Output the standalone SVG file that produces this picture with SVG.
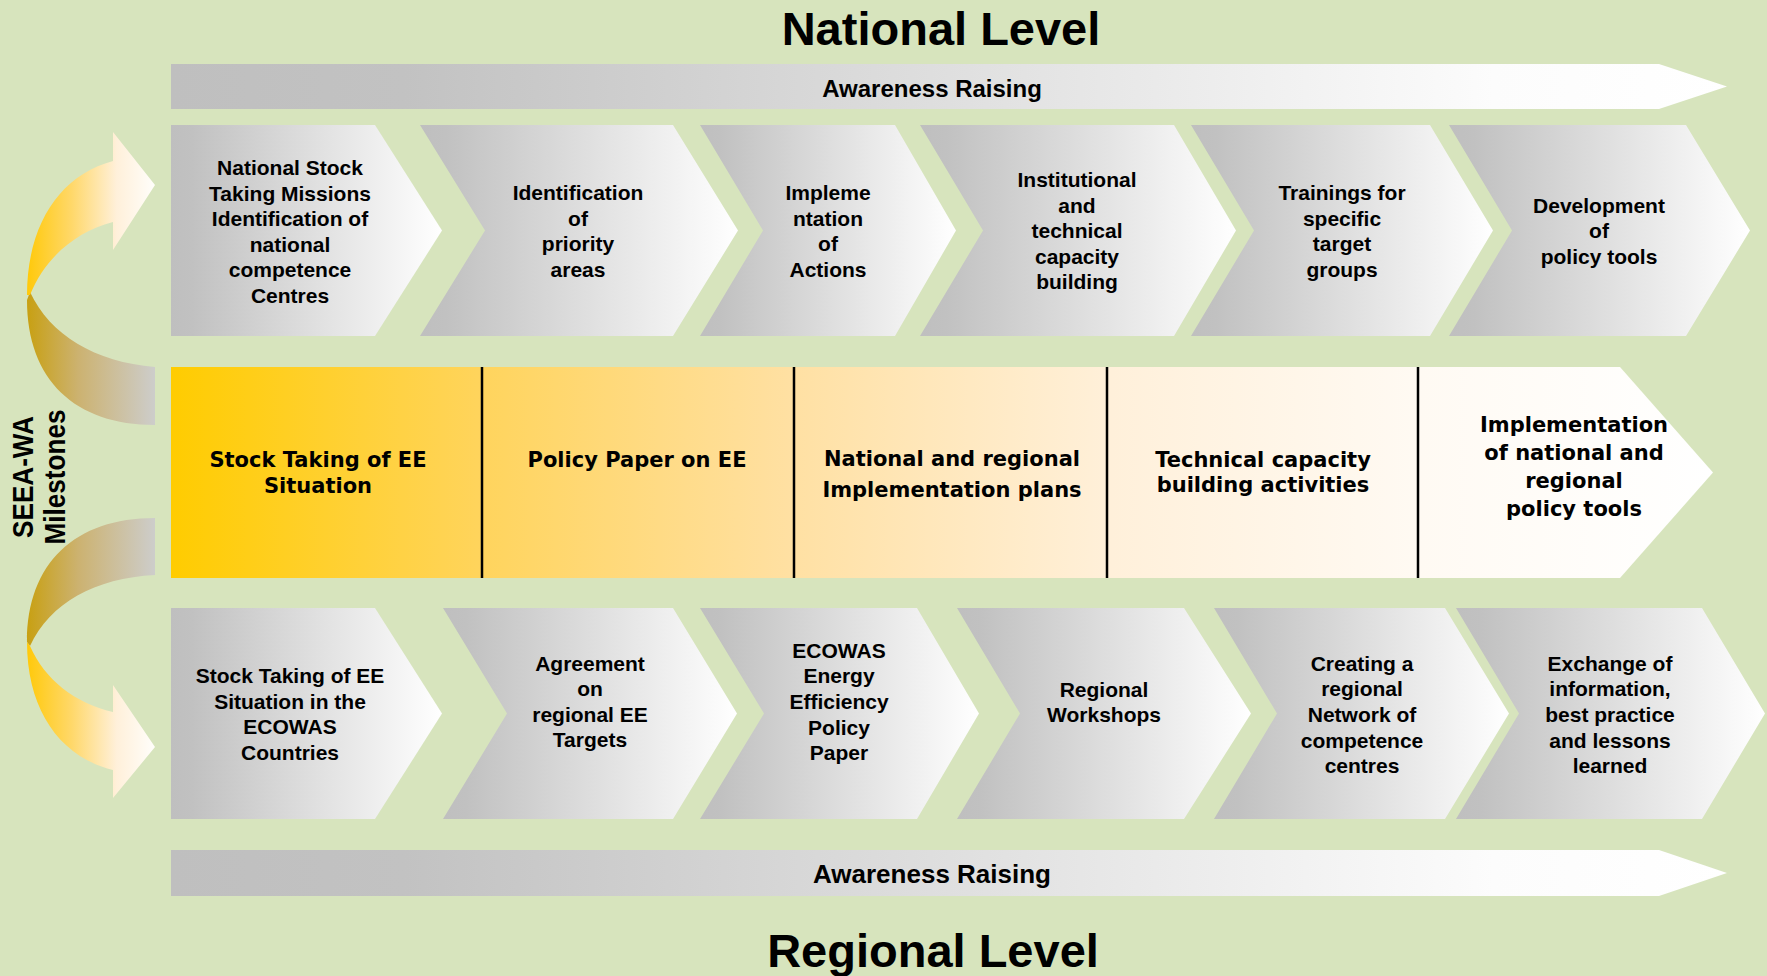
<svg xmlns="http://www.w3.org/2000/svg" width="1767" height="976" viewBox="0 0 1767 976">
<defs>
<linearGradient id="grey" x1="0" y1="0" x2="1" y2="0">
<stop offset="0" stop-color="#BFBFBF"/><stop offset="0.08" stop-color="#C1C1C1"/><stop offset="1" stop-color="#FFFFFF"/>
</linearGradient>
<linearGradient id="barGrey" x1="0" y1="0" x2="1" y2="0">
<stop offset="0" stop-color="#BFBFBF"/><stop offset="0.15" stop-color="#C2C2C2"/><stop offset="0.85" stop-color="#FCFCFC"/><stop offset="1" stop-color="#FFFFFF"/>
</linearGradient>
<linearGradient id="gold" gradientUnits="userSpaceOnUse" x1="171" y1="0" x2="1713" y2="0">
<stop offset="0" stop-color="#FFCC00"/><stop offset="0.2" stop-color="#FFD45C"/><stop offset="0.4" stop-color="#FFE0A2"/><stop offset="0.61" stop-color="#FFF0DA"/><stop offset="0.81" stop-color="#FFFAF3"/><stop offset="1" stop-color="#FFFFFF"/>
</linearGradient>
<linearGradient id="front" gradientUnits="userSpaceOnUse" x1="27" y1="0" x2="155" y2="0">
<stop offset="0" stop-color="#FFC90A"/><stop offset="0.35" stop-color="#FFD86A"/><stop offset="0.7" stop-color="#FFF0DA"/><stop offset="1" stop-color="#FFFEFB"/>
</linearGradient>
<linearGradient id="back" gradientUnits="userSpaceOnUse" x1="27" y1="0" x2="155" y2="0">
<stop offset="0" stop-color="#C8A012"/><stop offset="0.4" stop-color="#CCB270"/><stop offset="1" stop-color="#CDCDCB"/>
</linearGradient>
<style>
.bg{fill:#D7E4BD}
.chev{fill:url(#grey)}
.bar{fill:url(#barGrey)}
.t{font-family:"Liberation Sans",Arial,sans-serif;font-weight:bold;font-size:21px;fill:#000;text-anchor:middle}
.m{font-family:"DejaVu Sans",Verdana,sans-serif;font-weight:bold;font-size:21px;fill:#000;text-anchor:middle}
.title{font-family:"Liberation Sans",Arial,sans-serif;font-weight:bold;font-size:47px;fill:#000;text-anchor:middle}
.div{stroke:#000;stroke-width:2.5}
</style>
</defs>
<rect class="bg" x="0" y="0" width="1767" height="976"/>

<g id="title-national"><text class="title" x="941" y="45">National Level</text></g>
<g id="title-regional"><text class="title" x="933" y="967">Regional Level</text></g>

<g id="awareness-top">
<path class="bar" d="M171,64 L1659,64 L1727,86.5 L1659,109 L171,109 Z"/>
<text class="t" x="932" y="96.5" style="font-size:24px">Awareness Raising</text>
</g>

<g id="national-1"><path class="chev" d="M171,125 L375,125 L442,230.5 L375,336 L171,336 Z"/>
<text class="t" x="290"><tspan x="290" y="175">National Stock</tspan><tspan x="290" y="200.6">Taking Missions</tspan><tspan x="290" y="226">Identification of</tspan><tspan x="290" y="252">national</tspan><tspan x="290" y="277">competence</tspan><tspan x="290" y="303">Centres</tspan></text></g>
<g id="national-2"><path class="chev" d="M420,125 L673,125 L738,230.5 L673,336 L420,336 L485,230.5 Z"/>
<text class="t"><tspan x="578" y="200">Identification</tspan><tspan x="578" y="226">of</tspan><tspan x="578" y="251">priority</tspan><tspan x="578" y="277">areas</tspan></text></g>
<g id="national-3"><path class="chev" d="M700,125 L895,125 L956,230.5 L895,336 L700,336 L763,230.5 Z"/>
<text class="t"><tspan x="828" y="200">Impleme</tspan><tspan x="828" y="226">ntation</tspan><tspan x="828" y="251">of</tspan><tspan x="828" y="277">Actions</tspan></text></g>
<g id="national-4"><path class="chev" d="M920,125 L1174,125 L1236,230.5 L1174,336 L920,336 L983,230.5 Z"/>
<text class="t"><tspan x="1077" y="187">Institutional</tspan><tspan x="1077" y="213">and</tspan><tspan x="1077" y="238">technical</tspan><tspan x="1077" y="264">capacity</tspan><tspan x="1077" y="289">building</tspan></text></g>
<g id="national-5"><path class="chev" d="M1191,125 L1430,125 L1493,230.5 L1430,336 L1191,336 L1254,230.5 Z"/>
<text class="t"><tspan x="1342" y="200">Trainings for</tspan><tspan x="1342" y="226">specific</tspan><tspan x="1342" y="251">target</tspan><tspan x="1342" y="277">groups</tspan></text></g>
<g id="national-6"><path class="chev" d="M1449,125 L1686,125 L1750,230.5 L1686,336 L1449,336 L1512,230.5 Z"/>
<text class="t"><tspan x="1599" y="213">Development</tspan><tspan x="1599" y="238">of</tspan><tspan x="1599" y="264">policy tools</tspan></text></g>

<g id="milestones">
<path fill="url(#gold)" d="M171,367 L1620,367 L1713,472.5 L1620,578 L171,578 Z"/>
<line class="div" x1="482" y1="367" x2="482" y2="578"/>
<line class="div" x1="794" y1="367" x2="794" y2="578"/>
<line class="div" x1="1107" y1="367" x2="1107" y2="578"/>
<line class="div" x1="1418" y1="367" x2="1418" y2="578"/>
</g>
<g id="milestone-1"><text class="m"><tspan x="318" y="467">Stock Taking of EE</tspan><tspan x="318" y="493">Situation</tspan></text></g>
<g id="milestone-2"><text class="m" x="637" y="467">Policy Paper on EE</text></g>
<g id="milestone-3"><text class="m"><tspan x="952" y="466">National and regional</tspan><tspan x="952" y="497">Implementation plans</tspan></text></g>
<g id="milestone-4"><text class="m"><tspan x="1263" y="467">Technical capacity</tspan><tspan x="1263" y="492">building activities</tspan></text></g>
<g id="milestone-5"><text class="m"><tspan x="1574" y="432">Implementation</tspan><tspan x="1574" y="460">of national and</tspan><tspan x="1574" y="488">regional</tspan><tspan x="1574" y="516">policy tools</tspan></text></g>

<g id="regional-1"><path class="chev" d="M171,608 L375,608 L442,713.5 L375,819 L171,819 Z"/>
<text class="t"><tspan x="290" y="683">Stock Taking of EE</tspan><tspan x="290" y="709">Situation in the</tspan><tspan x="290" y="734">ECOWAS</tspan><tspan x="290" y="760">Countries</tspan></text></g>
<g id="regional-2"><path class="chev" d="M443,608 L673,608 L737,713.5 L673,819 L443,819 L507,713.5 Z"/>
<text class="t"><tspan x="590" y="671">Agreement</tspan><tspan x="590" y="696">on</tspan><tspan x="590" y="722">regional EE</tspan><tspan x="590" y="747">Targets</tspan></text></g>
<g id="regional-3"><path class="chev" d="M700,608 L917,608 L979,713.5 L917,819 L700,819 L764,713.5 Z"/>
<text class="t"><tspan x="839" y="658">ECOWAS</tspan><tspan x="839" y="683">Energy</tspan><tspan x="839" y="709">Efficiency</tspan><tspan x="839" y="735">Policy</tspan><tspan x="839" y="760">Paper</tspan></text></g>
<g id="regional-4"><path class="chev" d="M957,608 L1184,608 L1251,713.5 L1184,819 L957,819 L1020,713.5 Z"/>
<text class="t"><tspan x="1104" y="697">Regional</tspan><tspan x="1104" y="722">Workshops</tspan></text></g>
<g id="regional-5"><path class="chev" d="M1214,608 L1445,608 L1509,713.5 L1445,819 L1214,819 L1277,713.5 Z"/>
<text class="t"><tspan x="1362" y="671">Creating a</tspan><tspan x="1362" y="696">regional</tspan><tspan x="1362" y="722">Network of</tspan><tspan x="1362" y="748">competence</tspan><tspan x="1362" y="773">centres</tspan></text></g>
<g id="regional-6"><path class="chev" d="M1456,608 L1702,608 L1765,713.5 L1702,819 L1456,819 L1519,713.5 Z"/>
<text class="t"><tspan x="1610" y="671">Exchange of</tspan><tspan x="1610" y="696">information,</tspan><tspan x="1610" y="722">best practice</tspan><tspan x="1610" y="748">and lessons</tspan><tspan x="1610" y="773">learned</tspan></text></g>

<g id="awareness-bottom">
<path class="bar" d="M171,850 L1659,850 L1727,873 L1659,896 L171,896 Z"/>
<text class="t" x="932" y="883" style="font-size:26px">Awareness Raising</text>
</g>

<g id="label-milestones">
<text class="t" transform="translate(33,477) rotate(-90) scale(0.9,1)" x="0" y="0" style="font-size:29px">SEEA-WA</text>
<text class="t" transform="translate(65,477) rotate(-90) scale(0.9,1)" x="0" y="0" style="font-size:29px">Milestones</text>
</g>

<g id="connectors">
<path fill="url(#back)" d="M30,292 C50,335 95,362 155,367 L155,425 C75,425 27,380 27,300 Z"/>
<path fill="url(#front)" d="M27,295 C27,225 60,175 113,161 L113,132 L155,185 L113,250 L113,222 C75,232 45,258 30,295 Z"/>
<path fill="url(#back)" d="M155,518 C75,518 27,563 27,642 L30,646 C50,603 95,578 155,575 Z"/>
<path fill="url(#front)" d="M27,642 C27,710 60,757 113,770 L113,798 L155,747 L113,685 L113,712 C75,703 45,680 30,646 Z"/>
</g>
</svg>
